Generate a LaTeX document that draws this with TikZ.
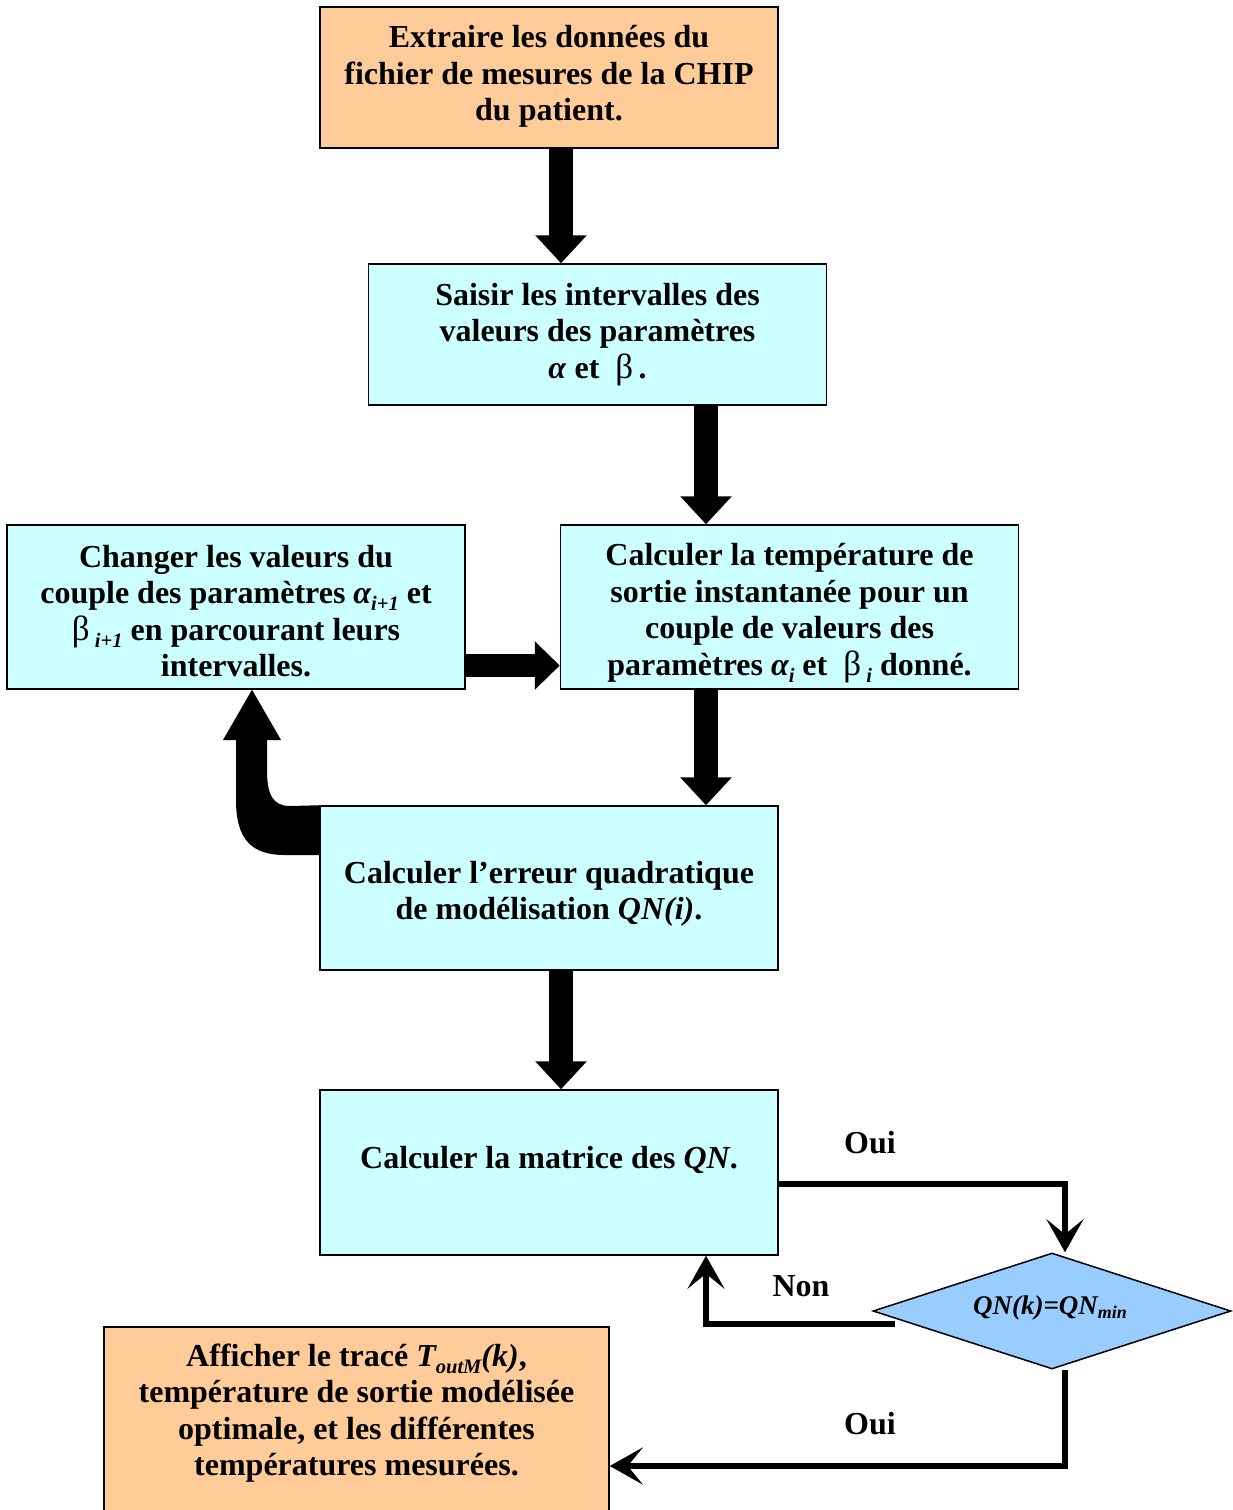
\documentclass[tikz,border=0pt]{standalone}
\usepackage{fontspec}
\setmainfont{Liberation Serif}
\usetikzlibrary{arrows.meta,shapes.geometric}
\definecolor{peach}{HTML}{FFCC99}
\definecolor{aqua}{HTML}{CCFFFF}
\definecolor{skyb}{HTML}{99CCFF}
\newcommand\subx[1]{\raisebox{-0.22em}{\fontsize{20.5}{20.5}\selectfont #1}}
\newcommand\betax{{\mdseries\fontsize{35}{36.5}\selectfont β}}
\begin{document}
\begin{tikzpicture}[x=1pt,y=-1pt,
 box/.style={draw=black, line width=1.5pt, minimum width=458pt, inner sep=0pt},
 txt/.style={align=center, inner sep=0pt, font=\fontsize{32}{36.5}\selectfont\bfseries},
 big/.style={line width=24pt, -{Triangle[width=50pt,length=28pt]}},
 conn/.style={line width=6pt, -{Stealth[length=33pt,width=37pt,inset=15pt]}},
]
\useasboundingbox (0,0) rectangle (1233,1510);
\fill[white] (0,0) rectangle (1233,1510);

% boxes
\node[box, fill=peach, minimum height=141pt] (b1) at (549,77.5) {};
\node[box, fill=aqua, minimum height=141pt] (b2) at (597.5,334.5) {};
\node[box, fill=aqua, minimum height=164pt] (b3) at (236,607) {};
\node[box, fill=aqua, minimum height=164pt] (b4) at (789.5,607) {};
\node[box, fill=aqua, minimum height=164pt] (b5) at (549,888) {};
\node[box, fill=aqua, minimum height=165pt] (b6) at (549,1172.5) {};
\node[box, fill=peach, minimum width=505pt, minimum height=200pt] (b7) at (356.5,1427) {};
\node[diamond, draw=black, fill=skyb, line width=1.5pt, inner sep=0pt, minimum width=358pt, minimum height=116pt] (d) at (1052,1311) {};

% texts
\node[txt] (t1) at (549,76.5) {Extraire les données du\\fichier de mesures de la CHIP\\du patient.};
\node[txt] (t2) at (597.5,334.5) {Saisir les intervalles des\\valeurs des paramètres\\\textit{α} et \ \betax\,.};
\node[txt] (t3) at (236,611) {Changer les valeurs du\\couple des paramètres \textit{α\subx{i+1}} et\\\betax\,\subx{\textit{i+1}} en parcourant leurs\\intervalles.};
\node[txt] (t4) at (789.5,613) {Calculer la température de\\sortie instantanée pour un\\couple de valeurs des\\paramètres \textit{α\subx{i}} et \ \betax\,\subx{\textit{i}} donné.};
\node[txt] (t5) at (549,894) {Calculer l’erreur quadratique\\de modélisation \textit{QN(i)}.};
\node[txt] (t6) at (549,1160) {Calculer la matrice des \textit{QN}.};
\node[txt] (t7) at (356.5,1413) {Afficher le tracé \textit{T\subx{outM}(k)},\\température de sortie modélisée\\optimale, et les différentes\\températures mesurées.};
\node[txt, font=\fontsize{27}{30}\selectfont\bfseries\itshape] (td) at (1050,1308) {QN(k)=QN{\fontsize{18}{18}\selectfont\raisebox{-0.2em}{min}}};
\node[txt] (l1) at (870,1143) {Oui};
\node[txt] (l2) at (801,1286) {Non};
\node[txt] (l3) at (870,1424) {Oui};

% thick arrows
\coordinate (xa) at (561,0);
\coordinate (xb) at (706,0);
\coordinate (ya) at (0,665.5);
\draw[big] (b1.south -| xa) -- (b2.north -| xa);
\draw[big] (b2.south -| xb) -- (b4.north -| xb);
\draw[big] (b4.south -| xb) -- (b5.north -| xb);
\draw[big] (b5.south -| xa) -- (b6.north -| xa);
\draw[line width=23pt, -{Triangle[width=47pt,length=25pt]}] (b3.east |- ya) -- (b4.west |- ya);

% curved loop arrow
\coordinate (xc) at (252,0);
\coordinate (yb) at (0,855);
\fill[black] (b5.north west) -- (290,806) .. controls (273,806) and (267,795) .. (267,770) -- (267,740) -- (281,740)
  -- (b3.south -| xc) -- (223,740) -- (236,740) -- (236,800) .. controls (236,840) and (252,855) .. (285,855)
  -- (b5.west |- yb) -- cycle;

% thin connectors
\coordinate (xr) at (1065,0);
\coordinate (yc) at (0,1184);
\coordinate (yd) at (0,1466);
\coordinate (xn) at (706,0);
\coordinate (nstart) at (895,1324);
\draw[conn] (b6.east |- yc) -| (xr |- d.north);
\draw[conn] (nstart) -| (b6.south -| xn);
\draw[conn] (xr |- d.south) |- (b7.east |- yd);
\end{tikzpicture}
\end{document}
